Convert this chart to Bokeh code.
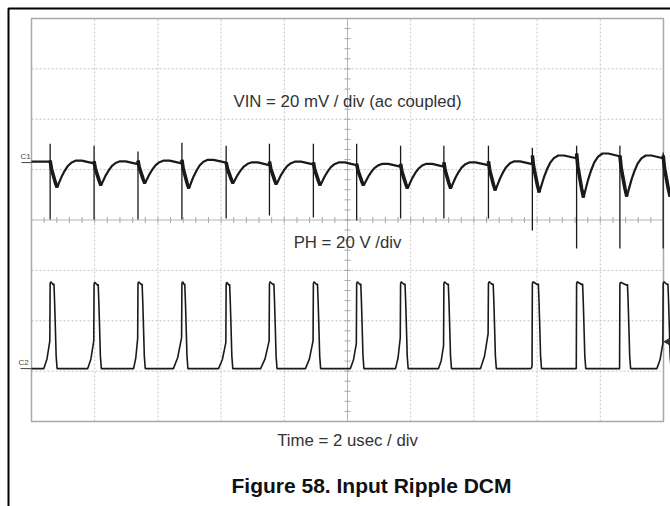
import numpy as np
from bokeh.plotting import figure
from bokeh.models import Range1d, Label
from bokeh.embed import file_html
from bokeh.resources import INLINE

# ---------------- data ----------------
# rising edges of the switch node PH (µs), one per switching cycle
edge_us = [0.59, 1.98, 3.37, 4.76, 6.16, 7.53, 8.92, 10.29, 11.68, 13.05,
           14.46, 15.85, 17.25, 18.62, 19.99]

# VIN ripple, ac coupled (mV)
vin_start_mV = 0.4
vin_plateau_mV = [0.8, 0.5, 0.8, 1.1, 0.1, 0.4, 0.1, -0.5, -0.5, 0.1,
                  0.5, 2.8, 3.6, 2.8, 2.8]
vin_dip_mV = [-9.9, -9.1, -8.3, -10.3, -8.3, -8.7, -9.1, -9.1, -10.3, -10.3,
              -11.1, -11.9, -13.9, -13.5, -13.5]
vin_spike_hi_mV = [7.5, 6.7, 4.4, 7.9, 6.7, 7.5, 7.5, 7.5, 6.7, 6.7,
                   6.7, 5.9, 6.7, 6.7, 4.0]
vin_spike_lo_mV = [-22.6, -22.6, -22.6, -22.6, -22.2, -21.0, -21.8, -23.0, -22.2, -22.2,
                   -22.2, -27.0, -34.1, -34.1, -34.1]

# dip shape after each edge (µs after the edge, fraction of the dip)
dip_dt_us = [0.0, 0.04, 0.10, 0.16, 0.22, 0.29, 0.37, 0.46, 0.56, 0.68, 0.82]
dip_frac = [0.0, 0.30, 0.55, 0.80, 1.0, 0.80, 0.58, 0.38, 0.20, 0.07, 0.0]

# PH switch node (V)
ph_high_V = [33.7, 33.5, 33.7, 33.7, 33.5, 33.7, 33.7, 33.7, 33.7, 33.7,
             33.7, 33.7, 33.7, 33.5, 33.7]
ph_ramp_us = [0.20, 0.20, 0.14, 0.27, 0.24, 0.28, 0.25, 0.20, 0.16, 0.17,
              0.25, 0.05, 0.03, 0.03, 0.20]
ph_ramp_V = [11.0, 11.0, 12.0, 12.3, 10.3, 11.0, 11.0, 10.0, 12.3, 9.0,
             13.9, 1.0, 0.0, 0.0, 10.0]
ph_top_us = [0.12, 0.13, 0.13, 0.09, 0.11, 0.14, 0.13, 0.13, 0.14, 0.14,
             0.15, 0.19, 0.19, 0.24, 0.15]
# falling edge shape (µs after end of top, fraction of high level)
fall_dt_us = [0.0, 0.02, 0.04, 0.07, 0.10]
fall_frac = [1.0, 0.80, 0.55, 0.15, 0.0]
trigger_level_V = 10.7

# scope settings: 10 x 2 µs horizontally, 8 divisions vertically
time_div_us = [0, 2, 4, 6, 8, 10, 12, 14, 16, 18, 20]
vert_div = [-4, -3, -2, -1, 0, 1, 2, 3, 4]
vin_mV_per_div = 20
vin_offset_div = 1.14
ph_V_per_div = 20
ph_offset_div = -2.95

# ---------------- page geometry (pixels) ----------------
W, H = 670, 506
SX0, SX1 = 31, 663     # scope screen left/right
SY0, SY1 = 18, 421     # scope screen top/bottom
px_per_us = (SX1 - SX0) / 20.0
px_per_div = (SY1 - SY0) / 8.0
ymid = (SY0 + SY1) / 2.0


def t_of(px):
    return (px - SX0) / px_per_us


def d_of(py):
    return (ymid - py) / px_per_div


# ---------------- build the traces ----------------
vt, vv = [0.0], [vin_start_mV]
fall_x, fall_y = [], []
for i, e in enumerate(edge_us):
    prev = vin_start_mV if i == 0 else vin_plateau_mV[i - 1] - 1.0
    plat = vin_plateau_mV[i]
    vt += [e - 0.01]
    vv += [prev]
    seg_x, seg_y = [], []
    for dt, f in zip(dip_dt_us, dip_frac):
        vt.append(e + dt)
        vv.append(plat + f * (vin_dip_mV[i] - plat))
        if dt <= 0.22:
            seg_x.append(e + dt)
            seg_y.append(plat + f * (vin_dip_mV[i] - plat))
    fall_x.append(seg_x)
    fall_y.append(seg_y)
    if i + 1 < len(edge_us):
        vt += [e + 1.0, edge_us[i + 1] - 0.04]
        vv += [plat, plat - 1.0]

pt, pv = [0.0], [0.0]
for i, e in enumerate(edge_us):
    r, rv, hv, tw = ph_ramp_us[i], ph_ramp_V[i], ph_high_V[i], ph_top_us[i]
    pt += [e - r, e - r * 0.5, e - 0.01, e, e + 0.02, e + tw - 0.02, e + tw]
    pv += [0.0, rv * 0.35, rv, hv, hv + 0.8, hv - 0.4, hv]
    for dt, f in zip(fall_dt_us, fall_frac):
        pt.append(e + tw + dt)
        pv.append(hv * f)

# ---------------- figure ----------------
p = figure(width=W, height=H,
           x_range=Range1d(t_of(0), t_of(W)), y_range=Range1d(d_of(H), d_of(0)),
           x_axis_type=None, y_axis_type=None,
           output_backend="svg", toolbar_location=None,
           min_border=0, min_border_left=0, min_border_right=0,
           min_border_top=0, min_border_bottom=0)
p.outline_line_color = None
p.background_fill_color = "white"
p.border_fill_color = "white"
p.xgrid.visible = False
p.ygrid.visible = False

ylo, yhi = d_of(H), d_of(0)
p.extra_y_ranges = {
    "vin": Range1d((ylo - vin_offset_div) * vin_mV_per_div, (yhi - vin_offset_div) * vin_mV_per_div),
    "ph": Range1d((ylo - ph_offset_div) * ph_V_per_div, (yhi - ph_offset_div) * ph_V_per_div),
}

# document box lines (top and left)
bx, by = t_of(8), d_of(8)
p.line([bx, bx, t_of(W)], [d_of(H), by, by], line_color="#000000", line_width=2)

# scope graticule
t0, t1 = time_div_us[0], time_div_us[-1]
d0, d1 = vert_div[0], vert_div[-1]
inner_t = [t for t in time_div_us[1:-1] if t != 10]
inner_d = [d for d in vert_div[1:-1] if d != 0]
p.segment(x0=inner_t, y0=d0, x1=inner_t, y1=d1, line_color="#c4c4c4", line_dash="2 2", line_width=1)
p.segment(x0=t0, y0=inner_d, x1=t1, y1=inner_d, line_color="#c4c4c4", line_dash="2 2", line_width=1)
p.segment(x0=[10, t0], y0=[d0, 0], x1=[10, t1], y1=[d1, 0], line_color="#b4b4b4", line_width=1)
p.dash(x=10, y=np.arange(d0, d1 + 0.001, 0.2), size=6, line_color="#a8a8a8", line_width=1)
p.dash(x=np.arange(t0, t1 + 0.001, 0.4), y=0, size=6, angle=np.pi / 2, line_color="#a8a8a8", line_width=1)
p.quad(left=t0, right=t1, bottom=d0, top=d1, fill_color=None, line_color="#a8a8a8", line_width=1.5)

# traces
p.line(vt, vv, y_range_name="vin", line_color="#1a1a1a", line_width=2.2)
p.multi_line(fall_x, fall_y, y_range_name="vin", line_color="#1a1a1a", line_width=3.6)
p.segment(x0=edge_us, y0=vin_spike_hi_mV, x1=edge_us, y1=vin_spike_lo_mV,
          y_range_name="vin", line_color="#1a1a1a", line_width=1.3)
p.line(pt, pv, y_range_name="ph", line_color="#1a1a1a", line_width=1.6)

# trigger level marker
p.scatter(x=[t_of(667)], y=[trigger_level_V], y_range_name="ph", marker="triangle",
          angle=np.pi / 2, size=6, fill_color="#333333", line_color="#333333")

# channel markers
p.segment(x0=[t_of(21)], y0=[0], x1=[0], y1=[0], y_range_name="vin", line_color="#444444", line_width=1)
p.segment(x0=[t_of(20)], y0=[0], x1=[0], y1=[0], y_range_name="ph", line_color="#444444", line_width=1)
p.add_layout(Label(x=t_of(20), y=0.6, y_range_name="vin", text="C1", text_align="left",
                   text_baseline="bottom", text_font_size="8px", text_color="#444444",
                   text_font="Liberation Sans"))
p.add_layout(Label(x=t_of(18), y=0.6, y_range_name="ph", text="C2", text_align="left",
                   text_baseline="bottom", text_font_size="8px", text_color="#444444",
                   text_font="Liberation Sans"))

# texts
p.add_layout(Label(x=10, y=d_of(101), text="VIN = 20 mV / div (ac coupled)", text_align="center",
                   text_baseline="middle", text_font_size="16.8px", text_color="#333333",
                   text_font="Liberation Sans"))
p.add_layout(Label(x=10, y=d_of(242), text="PH = 20 V /div", text_align="center",
                   text_baseline="middle", text_font_size="16.8px", text_color="#333333",
                   text_font="Liberation Sans"))
p.add_layout(Label(x=10, y=d_of(440), text="Time = 2 usec / div", text_align="center",
                   text_baseline="middle", text_font_size="16.8px", text_color="#333333",
                   text_font="Liberation Sans"))
p.add_layout(Label(x=t_of(371), y=d_of(485), text="Figure 58. Input Ripple DCM", text_align="center",
                   text_baseline="middle", text_font_size="21px", text_font_style="bold",
                   text_color="#111111", text_font="Liberation Sans"))

open("out.html", "w").write(file_html(p, INLINE))
